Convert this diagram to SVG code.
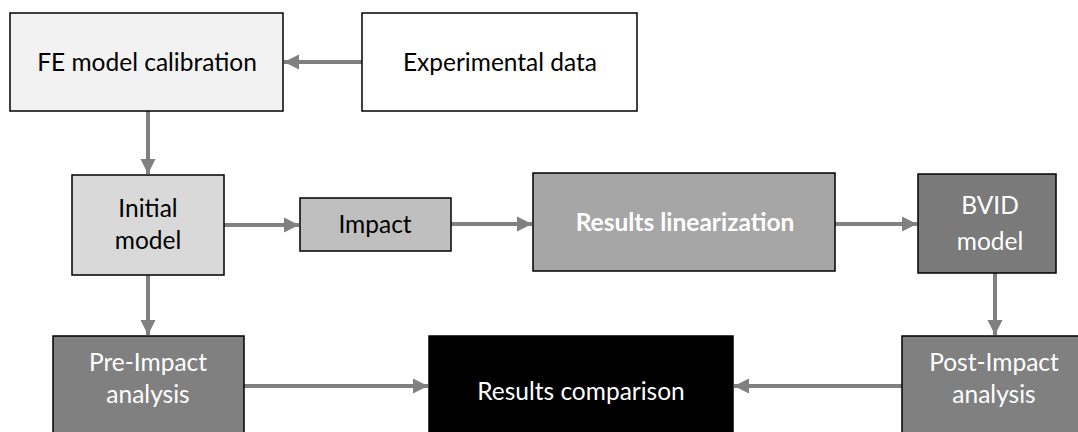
<svg xmlns="http://www.w3.org/2000/svg" width="1078" height="432" viewBox="0 0 1078 432">
<defs>
<marker id="ah" viewBox="0 0 10 10" refX="10" refY="5" markerWidth="3.8" markerHeight="4" orient="auto" markerUnits="strokeWidth">
<path d="M0,0 L10,5 L0,10 Z" fill="#808080"/>
</marker>
</defs>
<style>
.box{stroke:#000;stroke-width:1.5}
.t{font-family:Lato,"Liberation Sans",sans-serif;font-size:24.5px;text-anchor:middle}
.w{fill:#fff}
.k{fill:#000}
.c{stroke:#808080;stroke-width:4;fill:none;marker-end:url(#ah)}
</style>
<rect width="1078" height="432" fill="#fff"/>
<g id="connectors">
<line class="c" x1="362" y1="62" x2="284" y2="62"/>
<line class="c" x1="148" y1="111" x2="148" y2="174"/>
<line class="c" x1="224" y1="225" x2="299" y2="225"/>
<line class="c" x1="451" y1="224" x2="532" y2="224"/>
<line class="c" x1="835" y1="224" x2="917" y2="224"/>
<line class="c" x1="995" y1="273" x2="995" y2="335"/>
<line class="c" x1="148" y1="275" x2="148" y2="335"/>
<line class="c" x1="244" y1="386" x2="428" y2="386"/>
<line class="c" x1="902" y1="386" x2="734" y2="386"/>
</g>
<g id="fe-calibration">
<rect class="box" x="10" y="13" width="273" height="98" fill="#f2f2f2"/>
<text class="t k" x="147" y="71">FE model calibration</text>
</g>
<g id="experimental-data">
<rect class="box" x="362" y="13" width="275" height="98" fill="#fff"/>
<text class="t k" x="500" y="71">Experimental data</text>
</g>
<g id="initial-model">
<rect class="box" x="72" y="175" width="152" height="100" fill="#d9d9d9"/>
<text class="t k" x="148" y="217">Initial</text>
<text class="t k" x="148" y="249">model</text>
</g>
<g id="impact">
<rect class="box" x="300" y="198" width="151" height="53" fill="#bfbfbf"/>
<text class="t k" x="375" y="233">Impact</text>
</g>
<g id="results-linearization">
<rect class="box" x="533" y="173" width="302" height="98" fill="#a6a6a6"/>
<text class="t w" x="685" y="231" font-weight="bold">Results linearization</text>
</g>
<g id="bvid-model">
<rect class="box" x="918" y="174" width="138" height="99" fill="#7a7a7a"/>
<text class="t w" x="990" y="214">BVID</text>
<text class="t w" x="990" y="250">model</text>
</g>
<g id="pre-impact">
<rect class="box" x="53" y="336" width="191" height="100" fill="#808080"/>
<text class="t w" x="148" y="371">Pre-Impact</text>
<text class="t w" x="148" y="403">analysis</text>
</g>
<g id="results-comparison">
<rect class="box" x="429" y="336" width="304" height="100" fill="#000"/>
<text class="t w" x="581" y="400">Results comparison</text>
</g>
<g id="post-impact">
<rect class="box" x="902" y="336" width="190" height="100" fill="#808080"/>
<text class="t w" x="994" y="371">Post-Impact</text>
<text class="t w" x="994" y="403">analysis</text>
</g>
</svg>
